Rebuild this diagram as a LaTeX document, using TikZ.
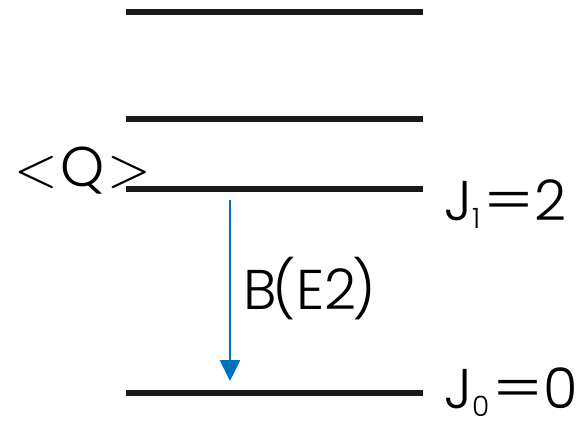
\documentclass[tikz,border=0pt]{standalone}
\usepackage{graphicx}
\usepackage{fontspec}
\setmainfont{Poppins}[UprightFont={* Light}]
\usetikzlibrary{arrows.meta}
\definecolor{transblue}{RGB}{0,114,188}
\tikzset{
  level/.style={line width=6pt, black!90},
  trans/.style={line width=2.6pt, transblue, -{Triangle[width=20pt,length=21pt]}},
  lbl/.style={inner sep=0pt, anchor=base west, font=\fontsize{56}{56}\selectfont},
}
\newcommand{\lowidx}[1]{\raisebox{-8pt}{\fontsize{28}{28}\selectfont #1}}
\newcommand{\bigrel}[1]{\scalebox{5.6}{\normalsize$#1$}}
\newcommand{\wideeq}{\kern3pt\scalebox{1.35}[1]{=}\kern0pt}
\begin{document}
\begin{tikzpicture}[x=1pt,y=-1pt]
  \useasboundingbox (0,0) rectangle (580,425);
  % energy levels
  \coordinate (l3a) at (126,12);  \coordinate (l3b) at (423,12);
  \coordinate (l2a) at (126,119); \coordinate (l2b) at (423,119);
  \coordinate (l1a) at (126,189); \coordinate (l1b) at (423,189);
  \coordinate (l0a) at (126,393); \coordinate (l0b) at (423,393);
  \draw[level] (l3a) -- (l3b);
  \draw[level] (l2a) -- (l2b);
  \draw[level] (l1a) -- (l1b);
  \draw[level] (l0a) -- (l0b);
  % E2 transition
  \coordinate (tstart) at (230,200);
  \coordinate (tend) at (230,381);
  \draw[trans] (tstart) -- (tend);
  % labels
  \node[lbl] (q) at (14,186) {\bigrel{<}\kern3pt Q\kern3pt\bigrel{>}};
  \node[lbl] (be2) at (243,309) {B\kern-4pt(E2\kern-4pt)};
  \node[lbl] (j1) at (444,220) {J\lowidx{1}\wideeq 2};
  \node[lbl] (j0) at (444,408) {J\lowidx{0}\wideeq 0};
\end{tikzpicture}
\end{document}
